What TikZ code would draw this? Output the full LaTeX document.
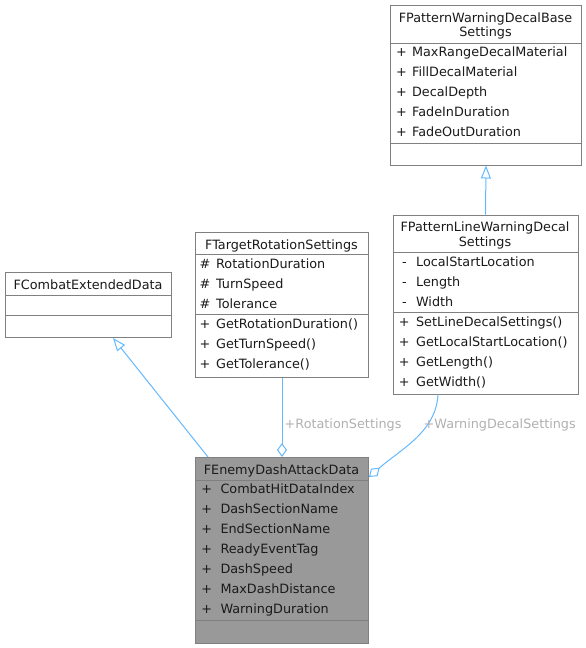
\documentclass[tikz,border=0pt]{standalone}
\usepackage{fontspec}
\setmainfont{DejaVu Sans}
\usetikzlibrary{arrows.meta}
\definecolor{bordercol}{HTML}{808080}
\definecolor{edgecol}{HTML}{63B8FF}
\definecolor{labelcol}{HTML}{B0B0B0}
\definecolor{fillgray}{HTML}{999999}
\definecolor{textcol}{HTML}{1A1A1A}
\tikzset{
  classbox/.style={draw=bordercol, line width=1pt, rectangle, inner sep=0pt, anchor=north west},
  sepline/.style={draw=bordercol, line width=1pt},
  txt/.style={inner sep=0pt, outer sep=0pt, text=textcol, font=\fontsize{12.8}{14}\selectfont},
  lbl/.style={inner sep=0pt, outer sep=0pt, text=labelcol, font=\fontsize{12.8}{14}\selectfont, anchor=base west},
  edge/.style={draw=edgecol, line width=1pt},
  inherit/.style={edge, -{Triangle[open, length=13pt, width=10pt, line width=1pt]}},
  aggr/.style={edge, -{Diamond[open, length=14pt, width=10pt, line width=1pt]}}
}
\begin{document}
\begin{tikzpicture}[x=1pt, y=-1pt]
\useasboundingbox (0,0) rectangle (586,648);

% ---- FPatternWarningDecalBaseSettings
\node[classbox, minimum width=191pt, minimum height=159.5pt] (base) at (390,5) {};
\draw[sepline] (390,43) -- (581,43);
\draw[sepline] (390,143) -- (581,143);
\node[txt, anchor=base] (baset1) at (485.5,22.7) {FPatternWarningDecalBase};
\node[txt, anchor=base] (baset2) at (485.5,36.2) {Settings};
\foreach \t [count=\i] in {MaxRangeDecalMaterial, FillDecalMaterial, DecalDepth, FadeInDuration, FadeOutDuration} {
  \node[txt, anchor=base] (basev\i) at (401.4,36+20*\i) {+};
  \node[txt, anchor=base west] (basen\i) at (412.1,36+20*\i) {\t};
}

% ---- FPatternLineWarningDecalSettings
\node[classbox, minimum width=185pt, minimum height=179pt] (line) at (392.5,214.5) {};
\draw[sepline] (392.5,252.5) -- (577.5,252.5);
\draw[sepline] (392.5,312) -- (577.5,312);
\node[txt, anchor=base] (linet1) at (485,231.7) {FPatternLineWarningDecal};
\node[txt, anchor=base] (linet2) at (485,246) {Settings};
\foreach \t [count=\i] in {LocalStartLocation, Length, Width} {
  \node[txt, anchor=base] (linev\i) at (404.5,246+20*\i) {-};
  \node[txt, anchor=base west] (linen\i) at (416.1,246+20*\i) {\t};
}
\foreach \t [count=\i] in {SetLineDecalSettings(), GetLocalStartLocation(), GetLength(), GetWidth()} {
  \node[txt, anchor=base] (linemv\i) at (404.3,306+20*\i) {+};
  \node[txt, anchor=base west] (linem\i) at (416.1,306+20*\i) {\t};
}

% ---- FTargetRotationSettings
\node[classbox, minimum width=173pt, minimum height=145pt] (rot) at (195,232) {};
\draw[sepline] (195,254) -- (368,254);
\draw[sepline] (195,314) -- (368,314);
\node[txt, anchor=base] (rott) at (281.5,249) {FTargetRotationSettings};
\foreach \t [count=\i] in {RotationDuration, TurnSpeed, Tolerance} {
  \node[txt, anchor=base] (rotv\i) at (205,248.3+20*\i) {\#};
  \node[txt, anchor=base west] (rotn\i) at (216.1,248.3+20*\i) {\t};
}
\foreach \t [count=\i] in {GetRotationDuration(), GetTurnSpeed(), GetTolerance()} {
  \node[txt, anchor=base] (rotmv\i) at (205,308.3+20*\i) {+};
  \node[txt, anchor=base west] (rotm\i) at (216.1,308.3+20*\i) {\t};
}

% ---- FCombatExtendedData
\node[classbox, minimum width=166pt, minimum height=65pt] (combat) at (5,272) {};
\draw[sepline] (5,295) -- (171,295);
\draw[sepline] (5,315) -- (171,315);
\node[txt, anchor=base] (combatt) at (88,289) {FCombatExtendedData};

% ---- FEnemyDashAttackData
\node[classbox, fill=fillgray, minimum width=173pt, minimum height=186pt] (enemy) at (195,457) {};
\draw[sepline] (195,480) -- (368,480);
\draw[sepline] (195,620) -- (368,620);
\node[txt, anchor=base] (enemyt) at (281.5,474) {FEnemyDashAttackData};
\foreach \t [count=\i] in {CombatHitDataIndex, DashSectionName, EndSectionName, ReadyEventTag, DashSpeed, MaxDashDistance, WarningDuration} {
  \node[txt, anchor=base] (enemyv\i) at (206.8,473.3+20*\i) {+};
  \node[txt, anchor=base west] (enemyn\i) at (220.5,473.3+20*\i) {\t};
}

% ---- connectors
\draw[inherit] ([xshift=13pt]enemy.north west) -- ([xshift=108pt]combat.south west);
\draw[inherit] (line.north) -- (base.south);
\draw[aggr] (rot.south) -- (enemy.north);
\draw[aggr] ([xshift=45.5pt]line.south west) .. controls (436,432) and (401,449) .. ([yshift=-20pt]enemy.north east);

% ---- labels
\node[lbl] (lblrot) at (284.7,428.7) {+RotationSettings};
\node[lbl] (lblwarn) at (423.7,428.7) {+WarningDecalSettings};
\end{tikzpicture}
\end{document}
